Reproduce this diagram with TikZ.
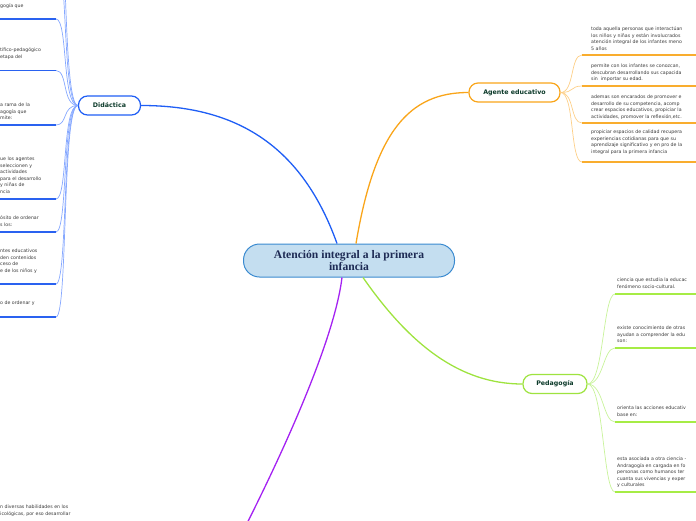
\documentclass[tikz,border=0pt]{standalone}
\usepackage{fontspec}
\newfontfamily\smallfont{DejaVu Sans}
\newfontfamily\titlefont{Liberation Serif}
\definecolor{blueMain}{HTML}{1F5EF5}
\definecolor{blueLine}{HTML}{2A62F0}
\definecolor{blueCurve}{HTML}{86A8FF}
\definecolor{orangeMain}{HTML}{F9A51A}
\definecolor{orangeLine}{HTML}{F9AD2E}
\definecolor{orangeCurve}{HTML}{FDCF88}
\definecolor{greenMain}{HTML}{9EE33F}
\definecolor{greenLine}{HTML}{A6EC45}
\definecolor{greenCurve}{HTML}{C8F39A}
\definecolor{purpleMain}{HTML}{A422F2}
\definecolor{textgray}{HTML}{3A3A3A}
\definecolor{nodetext}{HTML}{0C3A2A}
\definecolor{centerfill}{HTML}{C4DEF0}
\definecolor{centerdraw}{HTML}{3A8AD0}
\definecolor{centertext}{HTML}{1E2B55}
\tikzset{
  centerbox/.style={draw=centerdraw, fill=centerfill, line width=1pt, rounded corners=16pt,
    minimum width=211pt, minimum height=33pt, align=center, inner sep=0pt,
    font=\titlefont\bfseries\fontsize{11.6}{10.5}\selectfont, text=centertext},
  subbox/.style={fill=white, line width=1.2pt, rounded corners=9pt, minimum height=19pt,
    inner sep=0pt, font=\smallfont\bfseries\fontsize{6.3}{7}\selectfont, text=nodetext},
  leaf/.style={anchor=north west, align=left, inner sep=0pt,
    font=\smallfont\fontsize{4.7}{6.5}\selectfont, text=textgray},
  mainline/.style={line width=1.3pt},
  uline/.style={line width=1.2pt},
  bcurve/.style={draw=blueCurve, line width=0.7pt},
  ocurve/.style={draw=orangeCurve, line width=0.7pt},
  gcurve/.style={draw=greenCurve, line width=0.7pt},
}
\begin{document}
\begin{tikzpicture}[x=1pt,y=-1pt]
\useasboundingbox (0,0) rectangle (696,520);
\clip (0,0) rectangle (696,520);

% main nodes
\node[centerbox] (c) at (349,260.5) {Atención integral a la primera\\infancia};
\node[subbox, draw=blueMain, minimum width=62pt] (d) at (109.5,105.5) {Didáctica};
\node[subbox, draw=orangeMain, minimum width=91pt] (a) at (514.5,92.5) {Agente educativo};
\node[subbox, draw=greenMain, minimum width=64pt] (p) at (555,384) {Pedagogía};
\coordinate (pend) at (236,545);

% main connectors
\draw[mainline, draw=blueMain] ([xshift=-12pt]c.north) .. controls (300,140) and (230,105.5) .. (d.east);
\draw[mainline, draw=orangeMain] ([xshift=7pt]c.north) .. controls (375,130) and (410,92.5) .. (a.west);
\draw[mainline, draw=greenMain] ([xshift=14pt]c.south) .. controls (410,345) and (460,384) .. (p.west);
\draw[mainline, draw=purpleMain] ([xshift=-7pt]c.south) .. controls (335,335) and (290,440) .. (pend);

% Didactica branches
\coordinate (bl0) at (56,-110);
\coordinate (blx) at (56,-45);
\coordinate (bl1) at (56,19);
\coordinate (bl2) at (56,70.5);
\coordinate (bl3) at (56,125);
\coordinate (bl4) at (56,199);
\coordinate (bl5) at (56,232);
\coordinate (bl6) at (56,284);
\coordinate (bl7) at (56,317);
\foreach \k in {bl0,blx,bl1,bl2,bl3,bl4,bl5,bl6,bl7}{
  \draw[bcurve] (d.west) .. controls +(-16,0) and +(12,0) .. (\k);
  \draw[uline, draw=blueLine] (\k) -- ++(-60,0);
}
\node[leaf] (b1) at (0,3.2) {gogía que};
\node[leaf] (b2) at (0,48) {tífico-pedagógico\\ etapa del};
\node[leaf] (b3) at (0,103) {a rama de la\\agogía que\\mite:};
\node[leaf] (b4) at (0,157) {ue los agentes\\ seleccionen y\\ actividades\\ para el desarrollo\\ y niñas de\\ ncia};
\node[leaf] (b5) at (0,216) {ósito de ordenar\\ s los:};
\node[leaf] (b6) at (0,249) {ntes educativos\\ den contenidos\\ ceso de\\ e de los niños y};
\node[leaf] (b7) at (0,301) {o de ordenar y};
\node[leaf] (pt) at (0,505) {n diversas habilidades en los\\icológicas, por eso desarrollar};

% Agente educativo branches
\coordinate (ol1) at (582,55);
\coordinate (ol2) at (582,86);
\coordinate (ol3) at (582,123);
\coordinate (ol4) at (582,162);
\foreach \k in {ol1,ol2,ol3,ol4}{
  \draw[ocurve] (a.east) .. controls +(14,0) and +(-12,0) .. (\k);
  \draw[uline, draw=orangeLine] (\k) -- ++(130,0);
}
\node[leaf] (o1) at (591,27) {toda aquella personas que interactúan\\los niños y niñas y están involucrados\\atención integral de los infantes meno\\5 años};
\node[leaf] (o2) at (591,64) {permite con los infantes se conozcan,\\descubran desarrollando sus capacida\\sin\ \ importar su edad.};
\node[leaf] (o3) at (591,95) {ademas son encarados de promover e\\desarrollo de su competencia, acomp\\crear espacios educativos, propiciar la\\actividades, promover la reflexión,etc.};
\node[leaf] (o4) at (591,130) {propiciar espacios de calidad recupera\\experiencias cotidianas para que su\\aprendizaje significativo y en pro de la\\integral para la primera infancia};

% Pedagogia branches
\coordinate (gl1) at (615,294);
\coordinate (gl2) at (615,348);
\coordinate (gl3) at (615,422);
\coordinate (gl4) at (615,492);
\foreach \k in {gl1,gl2,gl3,gl4}{
  \draw[gcurve] (p.east) .. controls +(16,0) and +(-12,0) .. (\k);
  \draw[uline, draw=greenLine] (\k) -- ++(100,0);
}
\node[leaf] (g1) at (617,278) {ciencia que estudia la educac\\fenómeno socio-cultural.};
\node[leaf] (g2) at (617,326) {existe conocimiento de otras\\ayudan a comprender la edu\\son:};
\node[leaf] (g3) at (617,406) {orienta las acciones educativ\\base en:};
\node[leaf] (g4) at (617,457) {esta asociada a otra ciencia -\\Andragogía en cargada en fo\\personas como humanos ter\\cuanta sus vivencias y exper\\y culturales};
\end{tikzpicture}
\end{document}
